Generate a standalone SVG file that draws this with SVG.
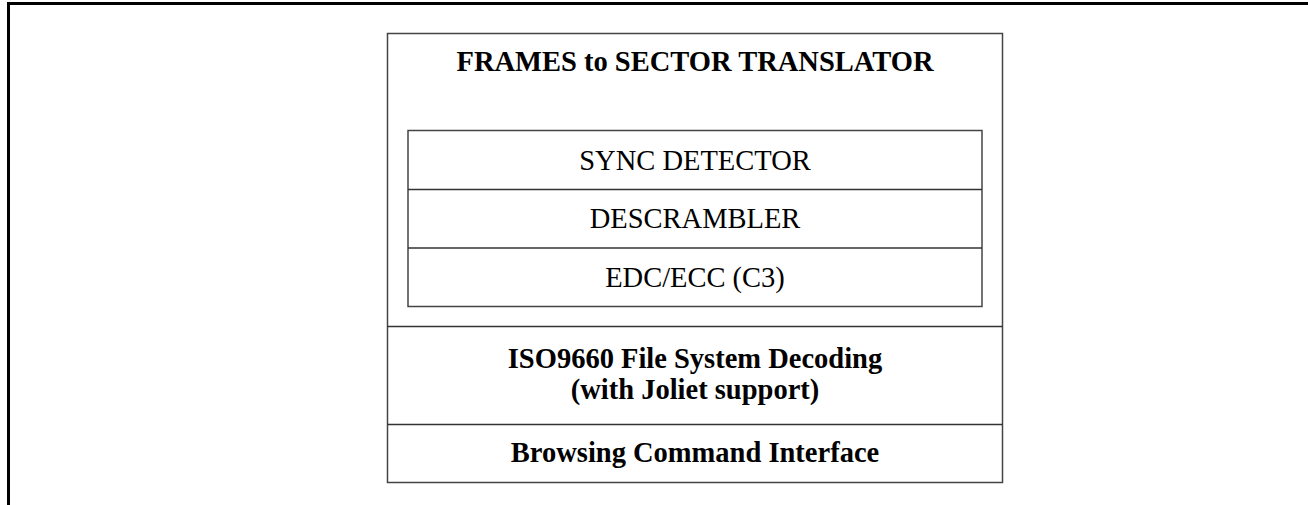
<svg xmlns="http://www.w3.org/2000/svg" width="1308" height="505" viewBox="0 0 1308 505">
<style>
.frame{fill:none;stroke:#000;stroke-width:3}
.box{fill:#fff;stroke:#444;stroke-width:1.5}
.div{stroke:#333;stroke-width:1.5}
.t{font-family:"Liberation Serif","Times New Roman",serif;font-size:28.5px;fill:#000;text-anchor:middle}
.b{font-weight:bold}
</style>
<rect width="1308" height="505" fill="#fff"/>
<path class="frame" d="M8.5,505 V3.5 H1308"/>
<g id="outer">
<rect class="box" x="387.5" y="33.5" width="615" height="449"/>
<text class="t b" x="695" y="71">FRAMES to SECTOR TRANSLATOR</text>
</g>
<g id="inner">
<rect class="box" x="408" y="130.5" width="574" height="176"/>
</g>
<g id="sync">
<text class="t" x="695" y="169.5">SYNC DETECTOR</text>
</g>
<g id="descrambler">
<line class="div" x1="408" y1="189.5" x2="982" y2="189.5"/>
<text class="t" x="695" y="228">DESCRAMBLER</text>
</g>
<g id="edc">
<line class="div" x1="408" y1="248" x2="982" y2="248"/>
<text class="t" x="695" y="286.5">EDC/ECC (C3)</text>
</g>
<g id="iso">
<line class="div" x1="387.5" y1="326.5" x2="1002.5" y2="326.5"/>
<text class="t b" x="695" y="368">ISO9660 File System Decoding</text>
<text class="t b" x="695" y="399">(with Joliet support)</text>
</g>
<g id="browsing">
<line class="div" x1="387.5" y1="424.5" x2="1002.5" y2="424.5"/>
<text class="t b" x="695" y="462">Browsing Command Interface</text>
</g>
<g id="connectors"></g>
</svg>
